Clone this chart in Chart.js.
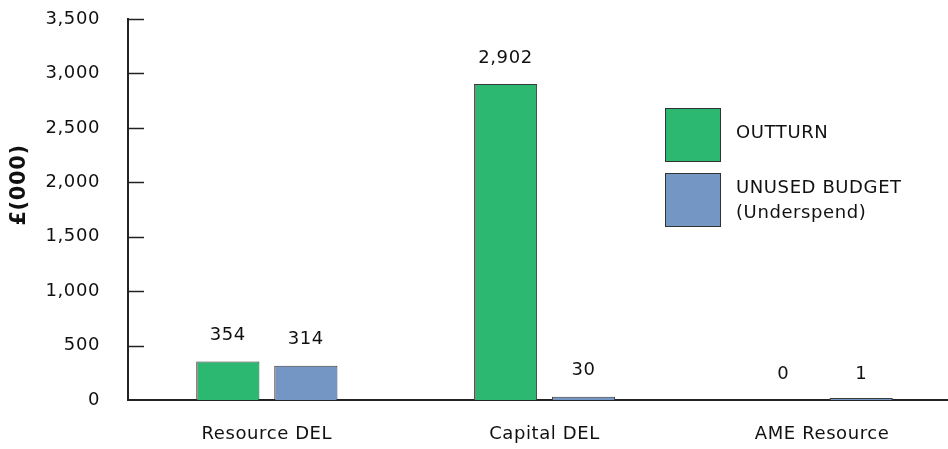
<!DOCTYPE html>
<html>
<head>
<meta charset="utf-8">
<script src="https://cdn.jsdelivr.net/npm/chart.js@4.4.1/dist/chart.umd.min.js"></script>
<style>
  html, body { margin: 0; padding: 0; background: #fff; overflow: hidden; }
  /* the x axis runs a little past the right edge of the window */
  #wrap { width: 961px; height: 449px; }
</style>
</head>
<body>
<div id="wrap"><canvas id="canvas"></canvas></div>
<script>
'use strict';

var categories = ['Resource DEL', 'Capital DEL', 'AME Resource'];
var outturn = [354, 2902, 0];
var unused = [314, 30, 1];
var seriesNames = ['OUTTURN', ['UNUSED BUDGET', '(Underspend)']];
var yTicks = [0, 500, 1000, 1500, 2000, 2500, 3000, 3500];

var FONT = '"DejaVu Sans", sans-serif';
var GREEN = '#2db872';
var BLUE = '#7496c4';

// wider text, closer to the original typeface
var spacing = {
    id: 'spacing',
    beforeDraw: function (chart) { chart.ctx.letterSpacing = '0.6px'; }
};

// tick marks inside the plot, value labels, y title and legend boxes
var extras = {
    id: 'extras',
    afterDraw: function (chart) {
        var ctx = chart.ctx;
        var y = chart.scales.y;
        var area = chart.chartArea;
        ctx.save();
        ctx.strokeStyle = '#222';
        ctx.lineWidth = 1.5;
        yTicks.forEach(function (v) {
            var py = Math.round(y.getPixelForValue(v)) + 0.5;
            if (v === 0) return;
            ctx.beginPath();
            ctx.moveTo(area.left, py);
            ctx.lineTo(area.left + 16, py);
            ctx.stroke();
        });

        ctx.fillStyle = '#111';
        ctx.font = '18px ' + FONT;
        ctx.textAlign = 'center';
        ctx.textBaseline = 'middle';
        chart.data.datasets.forEach(function (ds, i) {
            chart.getDatasetMeta(i).data.forEach(function (bar, j) {
                var top = y.getPixelForValue(ds.data[j]);
                ctx.fillText(ds.data[j].toLocaleString('en-GB'), bar.x, top - 26);
            });
        });

        // y axis title
        ctx.save();
        ctx.translate(20, 185);
        ctx.rotate(-Math.PI / 2);
        ctx.font = 'bold 21px ' + FONT;
        ctx.fillText('£(000)', 0, 0);
        ctx.restore();

        // legend
        var boxes = [{y: 108, c: GREEN}, {y: 173, c: BLUE}];
        ctx.textAlign = 'left';
        ctx.font = '18px ' + FONT;
        chart.data.datasets.forEach(function (ds, i) {
            var b = boxes[i];
            ctx.fillStyle = b.c;
            ctx.fillRect(665, b.y, 55, 53);
            ctx.strokeStyle = '#333';
            ctx.lineWidth = 1;
            ctx.strokeRect(665.5, b.y + 0.5, 55, 53);
            ctx.fillStyle = '#111';
            var lines = [].concat(seriesNames[i]);
            if (lines.length === 1) {
                ctx.fillText(lines[0], 736, b.y + 25);
            } else {
                ctx.fillText(lines[0], 736, b.y + 15);
                ctx.fillText(lines[1], 736, b.y + 40);
            }
        });
        ctx.restore();
    }
};

var myBar = new Chart(document.getElementById('canvas').getContext('2d'), {
    type: 'bar',
    data: {
        labels: categories,
        datasets: [{
            label: 'OUTTURN',
            data: outturn,
            backgroundColor: GREEN,
            borderColor: '#3a3a3a',
            borderWidth: 1
        }, {
            label: 'UNUSED BUDGET (Underspend)',
            data: unused,
            backgroundColor: BLUE,
            borderColor: '#3a3a3a',
            borderWidth: 1,
            minBarLength: 2
        }]
    },
    options: {
        responsive: true,
        maintainAspectRatio: false,
        animation: false,
        layout: { padding: { top: 19, right: 0, left: 0, bottom: 0 } },
        categoryPercentage: 0.562,
        barPercentage: 0.81,
        plugins: {
            legend: { display: false },
            tooltip: { enabled: false }
        },
        scales: {
            x: {
                grid: { display: false, drawTicks: false },
                border: { color: '#222', width: 2 },
                ticks: { color: '#111', font: { family: FONT, size: 18 }, padding: 24 },
                afterFit: function (s) { s.height = 49; s.paddingLeft = 0; s.paddingRight = 0; }
            },
            y: {
                min: 0,
                max: 3500,
                grid: { display: false, drawTicks: false },
                border: { color: '#222', width: 2 },
                afterBuildTicks: function (s) {
                    s.ticks = yTicks.map(function (v) { return {value: v}; });
                },
                ticks: {
                    color: '#111',
                    font: { family: FONT, size: 18 },
                    padding: 28,
                    callback: function (v) { return v.toLocaleString('en-GB'); }
                },
                afterFit: function (s) { s.width = 128; s.paddingTop = 0; s.paddingBottom = 0; }
            }
        }
    },
    plugins: [spacing, extras]
});
</script>
</body>
</html>
